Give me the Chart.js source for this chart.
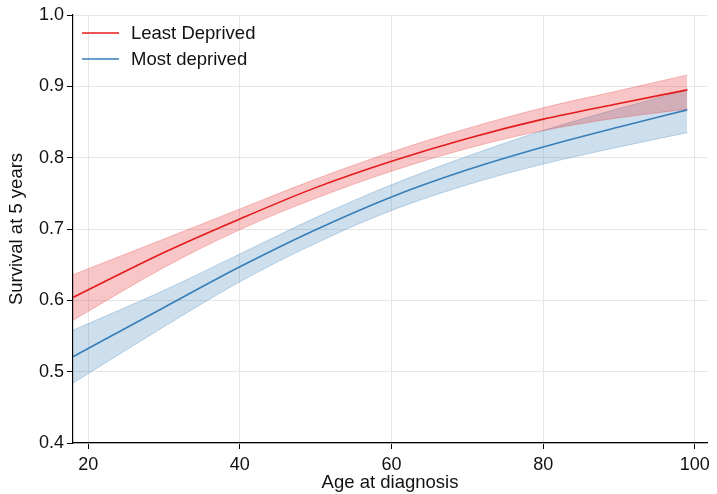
<!DOCTYPE html>
<html>
<head>
<meta charset="utf-8">
<script src="https://cdn.jsdelivr.net/npm/chart.js@4.4.1/dist/chart.umd.min.js"></script>
<style>
  html, body { margin: 0; padding: 0; background: #fff; }
  #wrap { width: 717px; height: 494px; position: relative; }
</style>
</head>
<body>
<div id="wrap"><canvas id="chart"></canvas></div>
<script>
// age at diagnosis
const ages = [18, 30, 40, 50, 60, 70, 80, 90, 99];

// least deprived: estimate and 95% band
const leastFit   = [0.604, 0.667, 0.714, 0.758, 0.795, 0.827, 0.854, 0.876, 0.895];
const leastUpper = [0.636, 0.686, 0.728, 0.770, 0.808, 0.841, 0.870, 0.894, 0.916];
const leastLower = [0.572, 0.646, 0.699, 0.743, 0.781, 0.813, 0.838, 0.856, 0.868];

// most deprived
const mostFit   = [0.521, 0.590, 0.647, 0.699, 0.745, 0.783, 0.815, 0.843, 0.867];
const mostUpper = [0.558, 0.614, 0.665, 0.716, 0.762, 0.802, 0.838, 0.869, 0.895];
const mostLower = [0.484, 0.563, 0.626, 0.680, 0.726, 0.762, 0.791, 0.815, 0.835];

const xTicks = [20, 40, 60, 80, 100];

const RED = '#e41a1c';
const BLUE = '#377eb8';

function pts(vals) {
    return ages.map((a, i) => ({ x: a, y: vals[i] }));
}

function band(vals, edge, fill, fillTo) {
    return {
        data: pts(vals),
        borderColor: edge,
        borderWidth: 1,
        backgroundColor: fill,
        fill: fillTo,
        pointRadius: 0,
        cubicInterpolationMode: 'monotone',
        order: 2
    };
}

const FONT = 'Liberation Sans, Arial, sans-serif';

// legend drawn inside the plot, top left
const insideLegend = {
    id: 'insideLegend',
    afterDatasetsDraw(chart) {
        const ctx = chart.ctx;
        const a = chart.chartArea;
        const items = [['Least Deprived', RED], ['Most deprived', BLUE]];
        ctx.save();
        ctx.font = '18.5px ' + FONT;
        ctx.textBaseline = 'middle';
        items.forEach((it, i) => {
            const y = a.top + 18 + i * 26;
            ctx.strokeStyle = it[1];
            ctx.lineWidth = 1.5;
            ctx.beginPath();
            ctx.moveTo(a.left + 9, y);
            ctx.lineTo(a.left + 46, y);
            ctx.stroke();
            ctx.fillStyle = '#111';
            ctx.fillText(it[0], a.left + 58, y + 1);
        });
        ctx.restore();
    }
};

new Chart(document.getElementById('chart'), {
    type: 'line',
    data: {
        datasets: [
            band(leastUpper, 'rgba(228,26,28,0.25)', 'rgba(228,26,28,0.25)', false),
            band(leastLower, 'rgba(228,26,28,0.25)', 'rgba(228,26,28,0.25)', '-1'),
            band(mostUpper, 'rgba(55,126,184,0.3)', 'rgba(55,126,184,0.25)', false),
            band(mostLower, 'rgba(55,126,184,0.3)', 'rgba(55,126,184,0.25)', '-1'),
            {
                label: 'Least Deprived',
                data: pts(leastFit),
                borderColor: RED,
                borderWidth: 1.6,
                pointRadius: 0,
                fill: false,
                cubicInterpolationMode: 'monotone',
                order: 1
            },
            {
                label: 'Most deprived',
                data: pts(mostFit),
                borderColor: BLUE,
                borderWidth: 1.6,
                pointRadius: 0,
                fill: false,
                cubicInterpolationMode: 'monotone',
                order: 1
            }
        ]
    },
    options: {
        responsive: true,
        maintainAspectRatio: false,
        animation: false,
        layout: { padding: { top: 15, right: 10, left: 0, bottom: 0 } },
        plugins: {
            legend: { display: false },
            tooltip: { enabled: false }
        },
        scales: {
            x: {
                type: 'linear',
                min: 18,
                max: 101.6,
                afterBuildTicks(scale) {
                    scale.ticks = xTicks.map(v => ({ value: v }));
                },
                afterFit(scale) { scale.height = 51; },
                grid: { color: '#e6e6e6', tickColor: '#000', tickLength: 6 },
                border: { color: '#000', width: 1.2 },
                ticks: {
                    color: '#111',
                    font: { family: FONT, size: 18 },
                    padding: 5,
                    maxRotation: 0
                },
                title: {
                    display: true,
                    text: 'Age at diagnosis',
                    color: '#111',
                    font: { family: FONT, size: 18.5 },
                    padding: { top: 0, bottom: 0 }
                }
            },
            y: {
                min: 0.4,
                max: 1.0,
                ticks: {
                    stepSize: 0.1,
                    color: '#111',
                    font: { family: FONT, size: 18 },
                    padding: 3,
                    callback: v => v.toFixed(1)
                },
                afterFit(scale) { scale.width = 73; },
                grid: { color: '#e6e6e6', tickColor: '#000', tickLength: 6 },
                border: { color: '#000', width: 1.2 },
                title: {
                    display: true,
                    text: 'Survival at 5 years',
                    color: '#111',
                    font: { family: FONT, size: 18.5 },
                    padding: { top: 6, bottom: 0 }
                }
            }
        }
    },
    plugins: [insideLegend]
});
</script>
</body>
</html>
